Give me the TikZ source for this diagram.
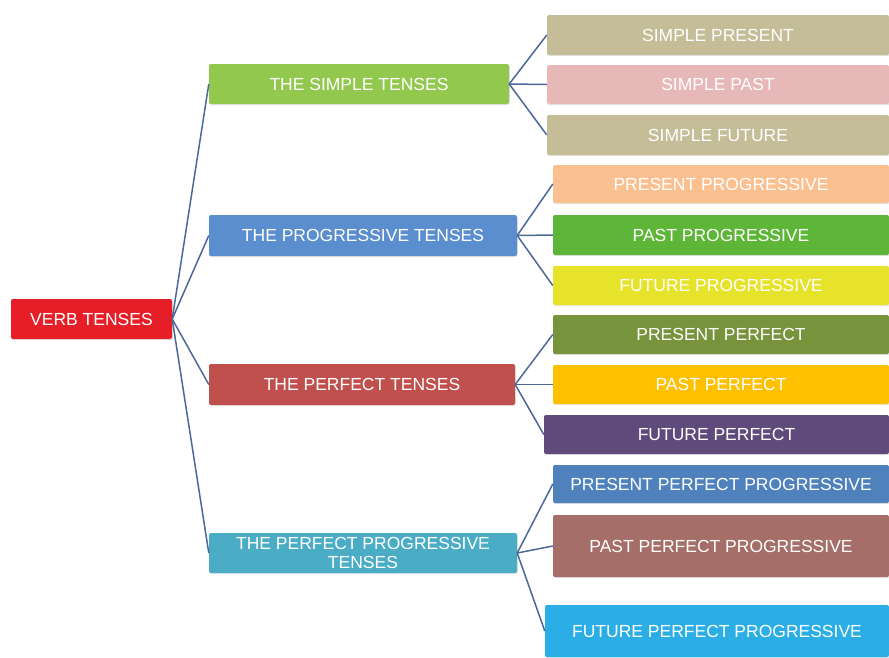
\documentclass[tikz,border=0pt]{standalone}
\usepackage{fontspec}
\setmainfont{Liberation Sans}
\usetikzlibrary{shadows}
\definecolor{cVT}{HTML}{E61E28}
\definecolor{cST}{HTML}{92C84E}
\definecolor{cPT}{HTML}{5A8ECF}
\definecolor{cPF}{HTML}{C0504D}
\definecolor{cPPT}{HTML}{4BACC6}
\definecolor{cKhaki}{HTML}{C4BD97}
\definecolor{cPink}{HTML}{E6B9B8}
\definecolor{cPeach}{HTML}{FAC090}
\definecolor{cGreen}{HTML}{5DB637}
\definecolor{cYellow}{HTML}{E6E32A}
\definecolor{cOlive}{HTML}{77933C}
\definecolor{cAmber}{HTML}{FFC000}
\definecolor{cPurple}{HTML}{604A7B}
\definecolor{cBlue}{HTML}{4F81BD}
\definecolor{cBrown}{HTML}{A66E68}
\definecolor{cSky}{HTML}{2BAEE6}
\definecolor{cLine}{HTML}{4A6898}
\tikzset{
  tbox/.style={rectangle, rounded corners=2pt, text=white, inner sep=0pt,
    font=\fontsize{17.5}{18.5}\selectfont, align=center,
    drop shadow={opacity=0.2, shadow xshift=0.8pt, shadow yshift=-1.2pt}},
  conn/.style={draw=cLine, line width=1.5pt}
}
\begin{document}
\begin{tikzpicture}[x=1pt,y=-1pt]
\useasboundingbox (0,0) rectangle (889,657);
% root
\node[tbox, fill=cVT, minimum width=161, minimum height=40] (vt) at (91.5,319) {VERB TENSES};
% categories
\node[tbox, fill=cST, minimum width=300, minimum height=40] (st) at (359,84) {THE SIMPLE TENSES};
\node[tbox, fill=cPT, minimum width=308, minimum height=41] (pt) at (363,235.5) {THE PROGRESSIVE TENSES};
\node[tbox, fill=cPF, minimum width=306, minimum height=41] (pf) at (362,384.5) {THE PERFECT TENSES};
\node[tbox, fill=cPPT, minimum width=308, minimum height=40] (ppt) at (363,553) {THE PERFECT PROGRESSIVE\\TENSES};
% leaves
\node[tbox, fill=cKhaki, minimum width=342, minimum height=40] (sp) at (718,35) {SIMPLE PRESENT};
\node[tbox, fill=cPink, minimum width=342, minimum height=39] (spa) at (718,84.5) {SIMPLE PAST};
\node[tbox, fill=cKhaki, minimum width=342, minimum height=40] (sf) at (718,135) {SIMPLE FUTURE};
\node[tbox, fill=cPeach, minimum width=336, minimum height=38] (prg) at (721,184) {PRESENT PROGRESSIVE};
\node[tbox, fill=cGreen, minimum width=336, minimum height=40] (pag) at (721,235) {PAST PROGRESSIVE};
\node[tbox, fill=cYellow, minimum width=336, minimum height=39] (fug) at (721,285.5) {FUTURE PROGRESSIVE};
\node[tbox, fill=cOlive, minimum width=336, minimum height=39] (prf) at (721,334.5) {PRESENT PERFECT};
\node[tbox, fill=cAmber, minimum width=336, minimum height=39] (paf) at (721,384.5) {PAST PERFECT};
\node[tbox, fill=cPurple, minimum width=345, minimum height=39] (fuf) at (716.5,434.5) {FUTURE PERFECT};
\node[tbox, fill=cBlue, minimum width=336, minimum height=38] (prpp) at (721,484) {PRESENT PERFECT PROGRESSIVE};
\node[tbox, fill=cBrown, minimum width=336, minimum height=62] (papp) at (721,546) {PAST PERFECT PROGRESSIVE};
\node[tbox, fill=cSky, minimum width=344, minimum height=52] (fupp) at (717,631) {FUTURE PERFECT PROGRESSIVE};
% connectors
\foreach \c in {st,pt,pf,ppt} \draw[conn] (vt.east) -- (\c.west);
\foreach \c in {sp,spa,sf} \draw[conn] (st.east) -- (\c.west);
\foreach \c in {prg,pag,fug} \draw[conn] (pt.east) -- (\c.west);
\foreach \c in {prf,paf,fuf} \draw[conn] (pf.east) -- (\c.west);
\foreach \c in {prpp,papp,fupp} \draw[conn] (ppt.east) -- (\c.west);
\end{tikzpicture}
\end{document}
